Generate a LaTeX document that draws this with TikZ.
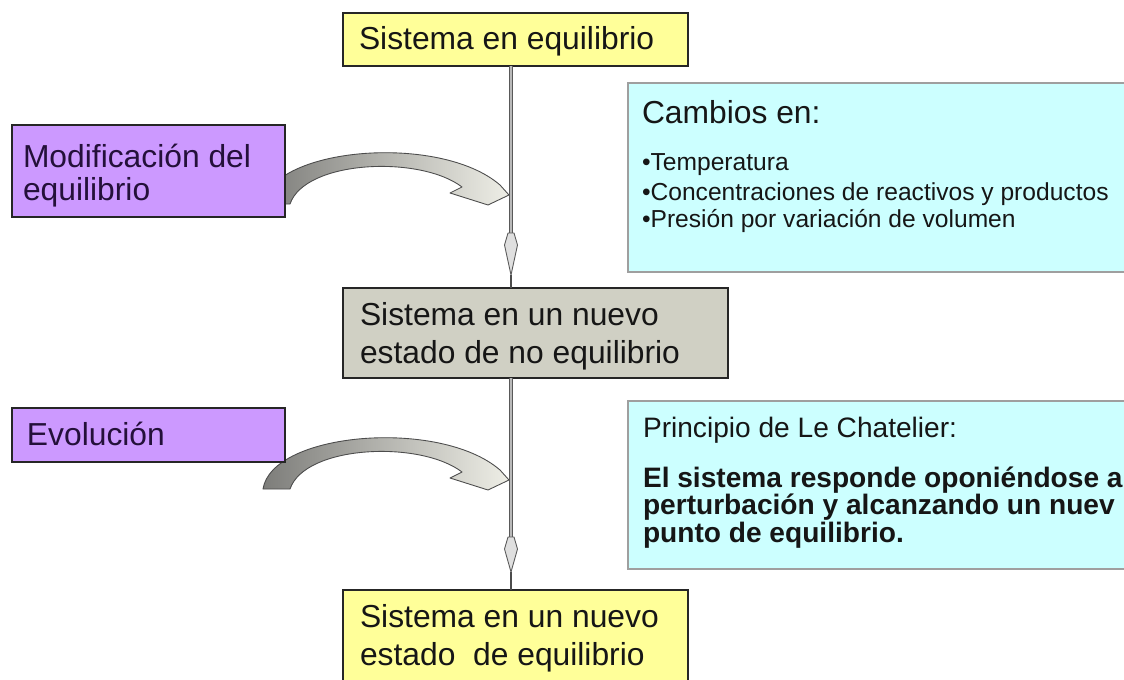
\documentclass[tikz,border=0pt]{standalone}
\usepackage{fontspec}
\setmainfont{Liberation Sans}
\usetikzlibrary{calc,fit}
\definecolor{yel}{HTML}{FFFF99}
\definecolor{pur}{HTML}{CC99FF}
\definecolor{gbox}{RGB}{208,208,196}
\definecolor{cyanbox}{HTML}{CCFFFF}
\definecolor{txt}{HTML}{161616}
\definecolor{ptxt}{HTML}{24103A}
\definecolor{banddark}{RGB}{125,125,122}
\definecolor{bandlight}{RGB}{238,238,230}
\newcommand{\curvedband}{%
  \shadedraw[left color=banddark, right color=bandlight, draw=black!70, line width=0.5pt, line join=round]
    (263,489) .. controls (272,432) and (440,418) .. (500,470)
    -- (509,480) -- (488,490) -- (450,478) -- (462,472)
    .. controls (420,440) and (305,445) .. (290,489) -- cycle;}
\begin{document}
\begin{tikzpicture}[x=0.02cm,y=-0.02cm,
  box/.style={draw=black!85, line width=0.8pt, inner sep=0pt, outer sep=0pt},
  bluebox/.style={draw=gray!75, line width=0.6pt, fill=cyanbox, inner sep=0pt, outer sep=0pt},
  lbl/.style={anchor=base west, inner sep=0pt, outer sep=0pt, text=txt, font=\fontsize{18.1}{21}\selectfont},
  plbl/.style={lbl, text=ptxt},
  bul/.style={anchor=base west, inner sep=0pt, outer sep=0pt, text=txt, font=\fontsize{14}{16}\selectfont},
  pri/.style={anchor=base west, inner sep=0pt, outer sep=0pt, text=txt, font=\fontsize{16}{18}\selectfont},
  prib/.style={pri, font=\fontsize{16}{18}\selectfont\bfseries},
  shaft/.style={draw=black!65, double=gray!55, double distance=1.4pt, line width=0.6pt},
  headshape/.style={fill=gray!25, draw=black!65, line width=0.5pt, line join=round},
  thin/.style={draw=black!70, line width=0.6pt}]
\clip (0,0) rectangle (1124,679);
\fill[white] (0,0) rectangle (1124,679);

% curved arrows (behind the boxes)
\begin{scope}[shift={(0,-285)}]\curvedband\end{scope}
\curvedband

% boxes
\node[box, fill=yel, fit={(343,13) (688,66)}] (top) {};
\node[bluebox, fit={(628,83) (1140,272)}] (cambios) {};
\node[box, fill=pur, fit={(12,125) (285,217)}] (modif) {};
\node[box, fill=gbox, fit={(343,288) (728,378)}] (noeq) {};
\node[box, fill=pur, fit={(12,408) (285,462)}] (evol) {};
\node[bluebox, fit={(628,401) (1140,569)}] (lech) {};
\node[box, fill=yel, fit={(343,590) (688,700)}] (nuevo) {};

% texts
\node[lbl] (t1) at (359,50) {Sistema en equilibrio};
\node[lbl] (t2) at (360,325) {Sistema en un nuevo};
\node[lbl] (t3) at (360,363) {estado de no equilibrio};
\node[lbl] (t4) at (360,627) {Sistema en un nuevo};
\node[lbl] (t5) at (360,665) {estado\ \ de equilibrio};
\node[plbl] (m1) at (23,167) {Modificación del};
\node[plbl] (m2) at (23,200) {equilibrio};
\node[plbl] (e1) at (27,445) {Evolución};
\node[lbl] (c0) at (642,123) {Cambios en:};
\node[bul] (c1) at (642,170) {•Temperatura};
\node[bul] (c2) at (642,200) {•Concentraciones de reactivos y productos};
\node[bul] (c3) at (642,227) {•Presión por variación de volumen};
\node[pri] (p0) at (643,437) {Principio de Le Chatelier:};
\node[prib] (p1) at (643,487) {El sistema responde oponiéndose a};
\node[prib] (p2) at (643,514) {perturbación y alcanzando un nuev};
\node[prib] (p3) at (643,542) {punto de equilibrio.};

% vertical arrows
\coordinate (s1) at (511,233);
\coordinate (h1) at (511,275);
\coordinate (s2) at (511,537);
\coordinate (h2) at (511,572);
\draw[shaft] (top.south -| s1) -- (s1);
\filldraw[headshape] ($(s1)+(-3,0)$) -- ($(s1)+(-6.5,12)$) -- (h1) -- ($(s1)+(6.5,12)$) -- ($(s1)+(3,0)$) -- cycle;
\draw[thin] (h1) -- (noeq.north -| h1);
\draw[shaft] (noeq.south -| s2) -- (s2);
\filldraw[headshape] ($(s2)+(-3,0)$) -- ($(s2)+(-6.5,12)$) -- (h2) -- ($(s2)+(6.5,12)$) -- ($(s2)+(3,0)$) -- cycle;
\draw[thin] (h2) -- (nuevo.north -| h2);
\end{tikzpicture}
\end{document}
